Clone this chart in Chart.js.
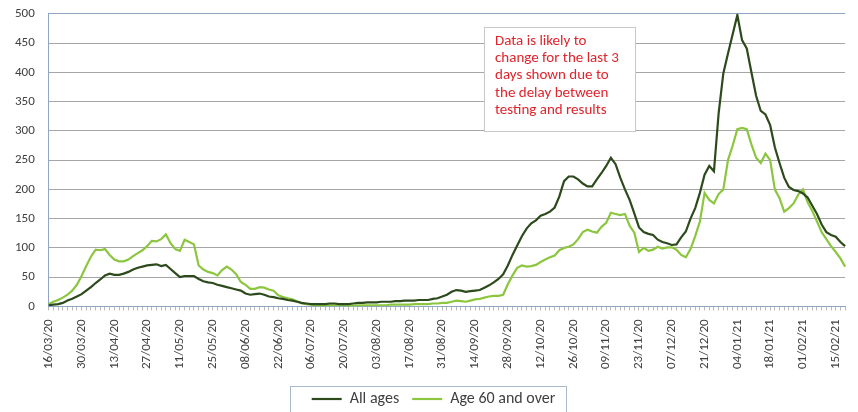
<!DOCTYPE html>
<html>
<head>
<meta charset="utf-8">
<script src="https://cdn.jsdelivr.net/npm/chart.js"></script>
<style>
  body { margin: 0; background: #fff; }
  #wrap { width: 858px; height: 412px; }
</style>
</head>
<body>
<div id="wrap"><canvas id="casesChart" width="858" height="412"></canvas></div>
<script>
// one sample every 2 days from 16/03/20, a date label every 14 days
const tickLabels = ['16/03/20', '30/03/20', '13/04/20', '27/04/20', '11/05/20', '25/05/20', '08/06/20',
  '22/06/20', '06/07/20', '20/07/20', '03/08/20', '17/08/20', '31/08/20', '14/09/20', '28/09/20',
  '12/10/20', '26/10/20', '09/11/20', '23/11/20', '07/12/20', '21/12/20', '04/01/21', '18/01/21',
  '01/02/21', '15/02/21'];
const samplesPerLabel = 7;

const allAges = [
  2, 3, 4, 6, 10, 13, 17, 21, 27, 33,
  40, 46, 53, 56, 54, 54, 56, 59, 63, 66,
  68, 70, 71, 72, 69, 71, 64, 57, 50, 52,
  52, 52, 47, 43, 41, 40, 37, 35, 33, 31,
  29, 27, 22, 20, 21, 22, 20, 17, 16, 14,
  13, 11, 10, 8, 6, 5, 4, 4, 4, 4,
  5, 5, 4, 4, 4, 5, 6, 6, 7, 7,
  7, 8, 8, 8, 9, 9, 10, 10, 10, 11,
  11, 11, 13, 14, 17, 20, 25, 28, 27, 25,
  26, 27, 28, 32, 36, 41, 47, 55, 70, 88,
  104, 120, 133, 142, 147, 155, 158, 162, 169, 188,
  214, 222, 222, 217, 210, 205, 205, 217, 228, 240,
  254, 243, 220, 200, 182, 159, 135, 127, 124, 122,
  114, 110, 108, 105, 106, 118, 128, 150, 168, 194,
  225, 240, 231, 330, 398, 432, 465, 498, 455, 441,
  400, 360, 334, 328, 310, 272, 245, 220, 204, 199,
  197, 193, 186, 172, 158, 140, 127, 122, 119, 110,
  103
];
const over60 = [
  4, 8, 11, 15, 20, 27, 37, 52, 69, 85,
  97, 96, 98, 88, 80, 77, 77, 80, 86, 91,
  96, 103, 112, 111, 115, 123, 108, 98, 95, 114,
  110, 106, 70, 63, 59, 57, 53, 62, 68, 63,
  55, 42, 37, 30, 30, 33, 32, 29, 27, 19,
  16, 14, 12, 9, 5, 4, 3, 2, 1, 2,
  2, 2, 2, 2, 1, 1, 2, 2, 2, 2,
  2, 2, 2, 3, 3, 3, 3, 3, 4, 4,
  4, 4, 5, 5, 6, 6, 8, 10, 9, 8,
  10, 12, 13, 15, 17, 18, 18, 20, 38, 53,
  66, 70, 68, 69, 71, 76, 80, 84, 87, 96,
  100, 102, 106, 115, 127, 131, 128, 126, 136, 143,
  160, 158, 156, 158, 138, 126, 93, 100, 95, 97,
  102, 99, 101, 101, 97, 88, 84, 98, 120, 145,
  194, 182, 176, 192, 200, 250, 275, 303, 305, 303,
  277, 254, 245, 261, 250, 200, 185, 162, 168, 176,
  191, 200, 178, 163, 145, 127, 115, 103, 93, 82,
  68
];

const noteLines = ['Data is likely to', 'change for the last 3', 'days shown due to', 'the delay between', 'testing and results'];
const noteAt = { index: 93, value: 478 }; // top left corner of the note, in data terms

const labels = allAges.map((_, i) => (i % samplesPerLabel === 0 ? tickLabels[i / samplesPerLabel] || '' : ''));

const FONT = 'Carlito, "Liberation Sans", Arial, sans-serif';

// 说明框
const noteBox = {
  id: 'noteBox',
  afterDatasetsDraw(chart) {
    const { ctx, scales: { x, y } } = chart;
    const left = Math.round(x.getPixelForValue(noteAt.index));
    const top = Math.round(y.getPixelForValue(noteAt.value));
    ctx.save();
    ctx.fillStyle = '#fff';
    ctx.fillRect(left, top, 151, 104);
    ctx.strokeStyle = '#c9c9c9';
    ctx.lineWidth = 1;
    ctx.strokeRect(left + 0.5, top + 0.5, 151, 104);
    ctx.fillStyle = '#e0242c';
    ctx.font = '15px ' + FONT;
    ctx.textBaseline = 'middle';
    noteLines.forEach((t, i) => ctx.fillText(t, left + 11, top + 14 + i * 17.3));
    ctx.restore();
  }
};

// 图例外框
const legendFrame = {
  id: 'legendFrame',
  afterDraw(chart) {
    const boxes = chart.legend.legendHitBoxes;
    if (!boxes || !boxes.length) return;
    const l = Math.min(...boxes.map(b => b.left)) - 22;
    const r = Math.max(...boxes.map(b => b.left + b.width)) + 10;
    const t = Math.min(...boxes.map(b => b.top)) - 5;
    const ctx = chart.ctx;
    ctx.save();
    ctx.strokeStyle = '#a9b8cc';
    ctx.lineWidth = 1;
    ctx.strokeRect(Math.round(l) + 0.5, Math.round(t) + 0.5, Math.round(r - l), 60);
    ctx.restore();
  }
};

new Chart(document.getElementById('casesChart'), {
  type: 'line',
  data: {
    labels: labels,
    datasets: [
      {
        label: 'All ages',
        data: allAges,
        borderColor: '#2c4a1c',
        backgroundColor: '#2c4a1c',
        borderWidth: 2.2,
        pointRadius: 0,
        pointStyle: 'line',
        tension: 0,
        fill: false
      },
      {
        label: 'Age 60 and over',
        data: over60,
        borderColor: '#8cc63f',
        backgroundColor: '#8cc63f',
        borderWidth: 2.2,
        pointRadius: 0,
        pointStyle: 'line',
        tension: 0,
        fill: false
      }
    ]
  },
  options: {
    responsive: false,
    animation: false,
    layout: { padding: { left: 9, right: 0, top: 0, bottom: -5 } },
    plugins: {
      tooltip: { enabled: false },
      legend: {
        position: 'bottom',
        labels: {
          usePointStyle: true,
          pointStyleWidth: 30,
          boxHeight: 16,
          padding: 13,
          color: '#404040',
          font: { family: FONT, size: 16 }
        }
      }
    },
    scales: {
      x: {
        offset: false,
        grid: {
          display: true,
          drawOnChartArea: false,
          drawTicks: true,
          tickLength: 4,
          color: '#b8b8b8'
        },
        border: { color: '#8fa6c2' },
        ticks: {
          autoSkip: false,
          minRotation: 90,
          maxRotation: 90,
          padding: 9,
          color: '#404040',
          // small line height keeps the rotated labels from reserving room on the right
          font: { family: FONT, size: 13, lineHeight: 0.3 }
        }
      },
      y: {
        min: 0,
        max: 500,
        ticks: {
          stepSize: 50,
          padding: 6,
          color: '#404040',
          font: { family: FONT, size: 13 }
        },
        grid: {
          drawTicks: true,
          tickLength: 8,
          tickColor: 'rgba(0,0,0,0)',
          color: ctx => (ctx.tick && ctx.tick.value === 500 ? '#8fa6c2' : '#a6a6a6')
        },
        border: { color: '#8fa6c2' }
      }
    }
  },
  plugins: [noteBox, legendFrame]
});
</script>
</body>
</html>
